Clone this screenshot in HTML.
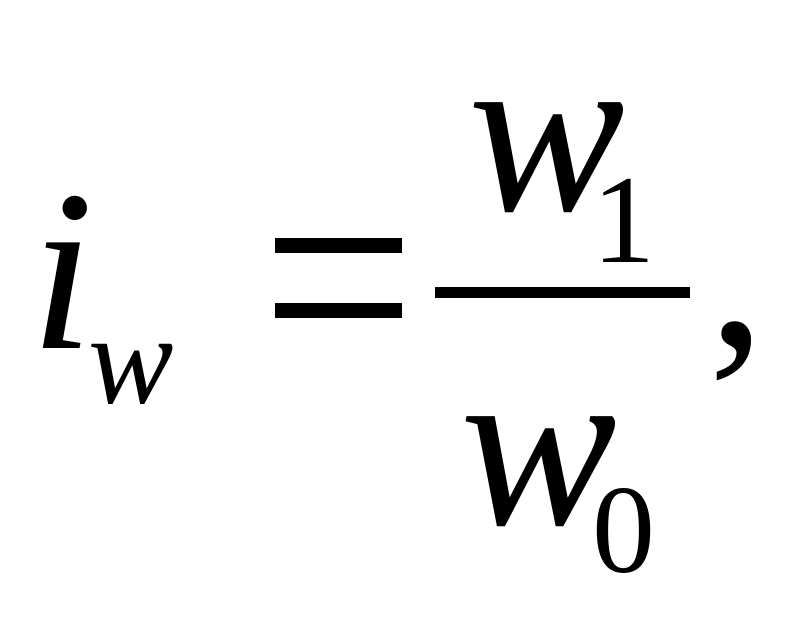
<!DOCTYPE html>
<html><head><meta charset="utf-8"><style>
html,body{margin:0;padding:0;background:#fff;}
svg{display:block;}
text{font-family:"Liberation Serif",serif;fill:#000;}
</style></head><body>
<svg width="805" height="621" viewBox="0 0 805 621" xmlns="http://www.w3.org/2000/svg">
<text x="30" y="348" font-size="230" font-style="italic">i</text>
<text x="88" y="403" font-size="128" font-style="italic">w</text>
<rect x="275" y="238" width="127" height="15"/>
<rect x="275" y="303" width="127" height="15"/>
<rect x="435" y="287" width="255" height="11"/>
<text x="468" y="210" font-size="235" font-style="italic">w</text>
<text x="592" y="262" font-size="126">1</text>
<text x="460" y="524" font-size="235" font-style="italic">w</text>
<text x="592" y="572" font-size="126">0</text>
<text x="708" y="345" font-size="230">,</text>
</svg>
</body></html>
